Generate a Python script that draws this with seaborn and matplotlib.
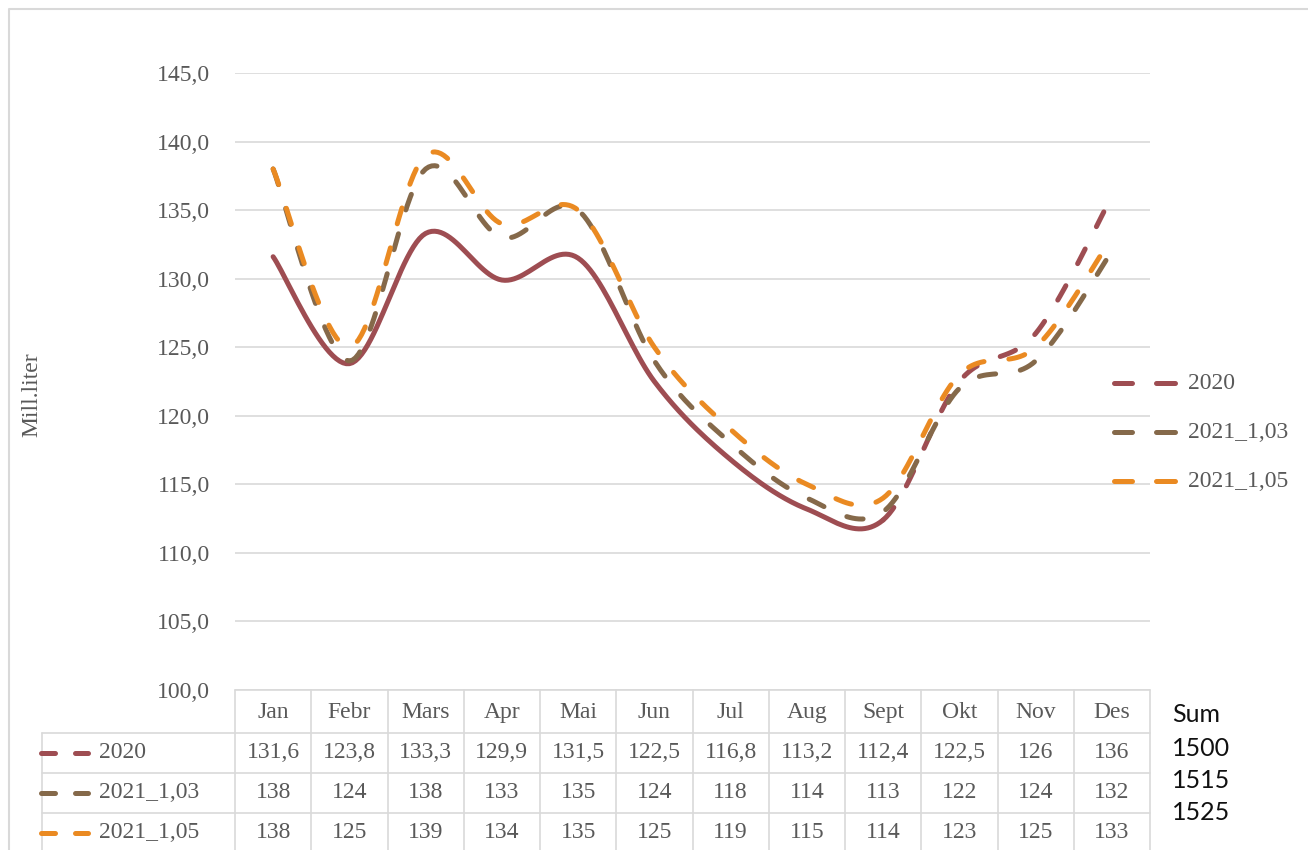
import numpy as np
import matplotlib
matplotlib.use("Agg")
import matplotlib.pyplot as plt
import matplotlib.transforms as mtransforms
import seaborn as sns

months = ["Jan", "Febr", "Mars", "Apr", "Mai", "Jun", "Jul", "Aug", "Sept", "Okt", "Nov", "Des"]
series_names = ["2020", "2021_1,03", "2021_1,05"]
v2020 = [131.6, 123.8, 133.3, 129.9, 131.5, 122.5, 116.8, 113.2, 112.4, 122.5, 126, 136]
v2021_103 = [138, 124, 138, 133, 135, 124, 118, 114, 113, 122, 124, 132]
v2021_105 = [138, 125, 139, 134, 135, 125, 119, 115, 114, 123, 125, 133]
sum_labels = ["Sum", "1500", "1515", "1525"]
yticks = [100, 105, 110, 115, 120, 125, 130, 135, 140, 145]

colors = ["#9E4D52", "#85694A", "#EA8A22"]
grey_txt = "#595959"
grid_col = "#D9D9D9"
SERIF = "Liberation Serif"
FS = 17


def smooth(vals, n=25):
    """Excel style smoothed line (bezier through every point)."""
    p = np.asarray(vals, float)
    x = np.arange(len(p), dtype=float)
    last = len(p) - 1
    xs, ys = [], []
    for i in range(last):
        a = i - 1 if i > 0 else i
        d = i + 2 if i + 2 <= last else i + 1
        c1x = x[i] + (x[i + 1] - x[a]) / 6
        c1y = p[i] + (p[i + 1] - p[a]) / 6
        c2x = x[i + 1] - (x[d] - x[i]) / 6
        c2y = p[i + 1] - (p[d] - p[i]) / 6
        t = np.linspace(0, 1, n, endpoint=(i == last - 1))
        b0, b1, b2, b3 = (1 - t) ** 3, 3 * (1 - t) ** 2 * t, 3 * (1 - t) * t ** 2, t ** 3
        xs.append(b0 * x[i] + b1 * c1x + b2 * c2x + b3 * x[i + 1])
        ys.append(b0 * p[i] + b1 * c1y + b2 * c2y + b3 * p[i + 1])
    return np.concatenate(xs), np.concatenate(ys)


def fmt(v):
    return f"{v:g}".replace(".", ",")


sns.set_theme(style="white")
plt.rcParams["font.family"] = [SERIF, "DejaVu Serif"]

fig = plt.figure(figsize=(13.08, 8.5), dpi=100)
ax = fig.add_axes([235 / 1308, 160 / 850, 915 / 1308, 617 / 850])
ov = fig.add_axes([0, 0, 1, 1], zorder=5)
ov.set_xlim(0, 1308)
ov.set_ylim(850, 0)
ov.axis("off")
ov.patch.set_alpha(0)

lw = 3.6
dash = (0, (3.3, 5.0))
common = dict(estimator=None, sort=False, ax=ax, lw=lw, legend=False)

# 2020: solid up to Sept, dashed afterwards
x0, y0 = smooth(v2020)
solid = x0 <= 8
sns.lineplot(x=x0[solid], y=y0[solid], color=colors[0], solid_capstyle="round", **common)
sns.lineplot(x=x0[x0 >= 8], y=y0[x0 >= 8], color=colors[0], linestyle=dash,
             dash_capstyle="round", **common)
for vals, c in [(v2021_103, colors[1]), (v2021_105, colors[2])]:
    xs, ys = smooth(vals)
    sns.lineplot(x=xs, y=ys, color=c, linestyle=dash, dash_capstyle="round", **common)

ax.set_xlim(-0.5, len(months) - 0.5)
ax.set_ylim(100, 145)
ax.set_yticks(yticks)
ax.set_yticklabels([f"{v},0" for v in yticks], fontsize=FS, color=grey_txt, family=SERIF)
ax.set_xticks([])
ax.tick_params(axis="y", length=0, pad=18)
ax.grid(axis="y", color=grid_col, lw=1.2)
for s in ax.spines.values():
    s.set_visible(False)
ax.set_ylabel("Mill.liter", fontsize=FS, color=grey_txt, family=SERIF)
ax.yaxis.set_label_coords(-0.211, 0.478)

# outer chart frame
ov.plot([9, 9, 1310], [855, 9, 9], color=grid_col, lw=1.5)

# data table under the plot: x in category units, y in pixels
tr = mtransforms.blended_transform_factory(ax.transData, ov.transData)
rows_y = [690, 733, 773, 813, 853]
left_x = -0.5 - (235 - 42) / 76.25
edges = np.arange(len(months) + 1) - 0.5
tl = dict(color=grid_col, lw=1.2, transform=tr, clip_on=False)
ov.plot([edges[0], edges[-1]], [rows_y[0]] * 2, **tl)
for yy in rows_y[1:]:
    ov.plot([left_x, edges[-1]], [yy, yy], **tl)
for e in edges:
    ov.plot([e, e], [rows_y[0], rows_y[-1]], **tl)
ov.plot([left_x, left_x], [rows_y[1], rows_y[-1]], **tl)

txt = dict(fontsize=FS, color=grey_txt, family=SERIF, transform=tr, va="center", ha="center")
for i, m in enumerate(months):
    ov.text(i, (rows_y[0] + rows_y[1]) / 2 + 1, m, **txt)
table_vals = [v2020, v2021_103, v2021_105]
for r, (name, vals, c) in enumerate(zip(series_names, table_vals, colors)):
    yc = (rows_y[r + 1] + rows_y[r + 2]) / 2
    for i, v in enumerate(vals):
        ov.text(i, yc, fmt(v), **txt)
    # key inside the table
    for a, b in [(40.5, 54.5), (74.5, 87.5)]:
        ov.plot([a, b], [yc, yc], color=c, lw=lw, solid_capstyle="round")
    ov.text(99, yc, name, fontsize=FS, color=grey_txt, family=SERIF, va="center", ha="left")

# legend on the right
for name, c, yc in zip(series_names, colors, [383, 432, 481]):
    for a, b in [(1113.5, 1131.5), (1155.5, 1174.5)]:
        ov.plot([a, b], [yc, yc], color=c, lw=lw, solid_capstyle="round")
    ov.text(1188, yc, name, fontsize=FS, color=grey_txt, family=SERIF, va="center", ha="left")

# sums next to the table
for s, yc in zip(sum_labels, [715, 748, 780, 813]):
    ov.text(1172, yc, s, fontsize=18, color="#111111", family=["Lato", "DejaVu Sans"],
            va="center", ha="left")

fig.savefig("out.png", dpi=100, facecolor="white")
